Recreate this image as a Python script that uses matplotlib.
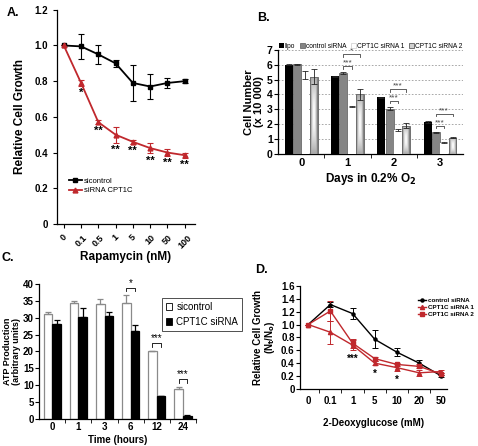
import matplotlib
matplotlib.use("Agg")
import matplotlib.pyplot as plt
import numpy as np
from matplotlib.lines import Line2D
from matplotlib.patches import Patch

plt.rcParams["font.family"] = ["Liberation Sans", "DejaVu Sans"]
plt.rcParams["font.weight"] = "bold"
plt.rcParams["axes.labelweight"] = "bold"
plt.rcParams["axes.linewidth"] = 0.9

RED = "#c0282d"

# A: rapamycin dose response
rapa_labels = ["0", "0.1", "0.5", "1", "5", "10", "50", "100"]
rapa_ctrl = [1.0, 0.995, 0.95, 0.90, 0.79, 0.77, 0.79, 0.80]
rapa_ctrl_err = [0.0, 0.07, 0.055, 0.02, 0.10, 0.07, 0.03, 0.01]
rapa_cpt = [1.0, 0.79, 0.57, 0.50, 0.46, 0.425, 0.40, 0.385]
rapa_cpt_err = [0.0, 0.015, 0.01, 0.045, 0.01, 0.03, 0.02, 0.015]
rapa_stars = ["", "*", "**", "**", "**", "**", "**", "**"]

# B: cell number in hypoxia
days = ["0", "1", "2", "3"]
b_names = ["lipo", "control siRNA", "CPT1C siRNA 1", "CPT1C siRNA 2"]
lipo = [6.0, 5.22, 3.82, 2.15]
lipo_err = [0.03, 0.03, 0.03, 0.05]
ctrl_sirna = [6.05, 5.45, 3.05, 1.45]
ctrl_sirna_err = [0.03, 0.05, 0.10, 0.02]
cpt_sirna1 = [5.3, 3.2, 1.6, 0.75]
cpt_sirna1_err = [0.25, 0.03, 0.05, 0.02]
cpt_sirna2 = [5.2, 4.0, 1.9, 1.1]
cpt_sirna2_err = [0.5, 0.4, 0.15, 0.05]
b_sig_day = [1, 1, 2, 2, 3, 3]
b_sig_bar = [2, 3, 2, 3, 2, 3]
b_sig_text = ["***", "*", "***", "***", "***", "***"]

# C: ATP production
hours = ["0", "1", "3", "6", "12", "24"]
atp_ctrl = [31.0, 34.2, 33.9, 34.2, 20.0, 9.0]
atp_ctrl_err = [0.7, 0.8, 1.5, 2.5, 0.2, 0.6]
atp_cpt = [28.0, 30.3, 30.6, 26.0, 6.7, 1.0]
atp_cpt_err = [1.4, 2.5, 1.2, 1.8, 0.1, 0.1]
atp_stars = ["", "", "", "*", "***", "***"]

# D: 2-deoxyglucose
dg_labels = ["0", "0.1", "1", "5", "10", "20", "50"]
dg_ctrl = [1.0, 1.31, 1.17, 0.77, 0.57, 0.40, 0.20]
dg_ctrl_err = [0.0, 0.04, 0.09, 0.14, 0.06, 0.05, 0.02]
dg_si1 = [1.0, 0.88, 0.68, 0.40, 0.33, 0.25, 0.27]
dg_si1_err = [0.0, 0.18, 0.08, 0.03, 0.05, 0.05, 0.02]
dg_si2 = [1.0, 1.21, 0.71, 0.47, 0.38, 0.35, 0.23]
dg_si2_err = [0.0, 0.15, 0.07, 0.03, 0.03, 0.03, 0.02]
dg_stars = ["", "", "***", "*", "*", "", ""]


def fmt_ticks(vals, nd):
    return ["0" if v == 0 else f"{v:.{nd}f}" for v in vals]


def bracket(ax, x0, x1, y, leg, text, fs, color):
    ax.plot([x0, x0, x1, x1], [y - leg, y, y, y - leg], color=color, lw=0.6)
    ax.text((x0 + x1) / 2, y, text, ha="center", va="bottom", fontsize=fs,
            color=color, weight="normal")


fig = plt.figure(figsize=(4.78, 4.46), dpi=100)

# ---- A ----
axA = fig.add_axes([0.119, 0.498, 0.289, 0.480])
xa = np.arange(len(rapa_labels))
ekw = dict(capsize=2.5, elinewidth=0.8, capthick=0.8, lw=1.3)
axA.errorbar(xa, rapa_ctrl, yerr=rapa_ctrl_err, color="black", marker="s", ms=3, **ekw)
axA.errorbar(xa, rapa_cpt, yerr=rapa_cpt_err, color=RED, marker="^", ms=3.5, **ekw)
for xi, v, e, s in zip(xa, rapa_cpt, rapa_cpt_err, rapa_stars):
    if s:
        axA.text(xi, v - e - 0.012, s, ha="center", va="top", fontsize=8)
axA.set_xlim(-0.4, 7.6)
axA.set_ylim(0, 1.2)
ya = np.arange(0, 1.21, 0.2)
axA.set_yticks(ya)
axA.set_yticklabels(fmt_ticks(ya, 1))
axA.set_xticks(xa)
axA.set_xticklabels(rapa_labels, rotation=45, ha="center")
axA.tick_params(axis="y", labelsize=7, length=3)
axA.tick_params(axis="x", labelsize=6.5, length=3)
axA.set_xlabel("Rapamycin (nM)", fontsize=8.5, labelpad=1)
axA.set_ylabel("Relative Cell Growth", fontsize=8.5, labelpad=6)
for s in ("top", "right"):
    axA.spines[s].set_visible(False)
a_handles = [Line2D([], [], color="black", marker="s", ms=3, lw=1.3),
             Line2D([], [], color=RED, marker="^", ms=3.5, lw=1.3)]
axA.legend(a_handles, ["sicontrol", "siRNA CPT1C"], loc="upper left",
           bbox_to_anchor=(0.04, 0.25), frameon=False,
           prop=dict(size=5.5, weight="normal"), handlelength=1.6,
           labelspacing=0.3, handletextpad=0.3)

# ---- B ----
axB = fig.add_axes([0.582, 0.655, 0.387, 0.233])
xb = np.arange(len(days))
bw = 0.17
offs = (np.arange(4) - 1.5) * 0.18
err_kw = dict(ecolor="#222222", capsize=2.5, elinewidth=0.6, capthick=0.6)
axB.bar(xb + offs[0], lipo, bw, color="black", yerr=lipo_err, error_kw=err_kw, zorder=3)
axB.bar(xb + offs[1], ctrl_sirna, bw, color="#858585", edgecolor="#5a5a5a",
        lw=0.5, yerr=ctrl_sirna_err, error_kw=err_kw, zorder=3)
axB.bar(xb + offs[2], cpt_sirna1, bw, color="white", edgecolor="none",
        yerr=cpt_sirna1_err, error_kw=err_kw, zorder=3)
bars2 = axB.bar(xb + offs[3], cpt_sirna2, bw, color="none", edgecolor="#6f6f6f",
                lw=0.7, yerr=cpt_sirna2_err, error_kw=err_kw, zorder=3)
gx, gy = np.meshgrid(np.linspace(-1, 1, 64), np.linspace(-1, 1, 64))
shade = 1 - 0.6 * np.maximum(np.abs(gx), 0.7 * np.abs(gy)) ** 1.6
for rect in bars2:
    im = axB.imshow(shade, cmap="gray", vmin=0, vmax=1, aspect="auto",
                    interpolation="bilinear", zorder=2.8,
                    extent=(rect.get_x(), rect.get_x() + rect.get_width(),
                            0, rect.get_height()))
    im.set_clip_path(rect)
tops = np.array(ctrl_sirna) + np.array(ctrl_sirna_err)
tier = {}
for d, j, t in zip(b_sig_day, b_sig_bar, b_sig_text):
    k = tier.get(d, 0)
    tier[d] = k + 1
    bracket(axB, d + offs[1], d + offs[j], tops[d] + 0.4 + 0.8 * k, 0.15, t, 6, "#444444")
axB.set_xlim(-0.5, 3.5)
axB.set_ylim(0, 7)
axB.set_yticks(range(8))
axB.yaxis.grid(True, ls=(0, (2, 2)), color="#9a9a9a", lw=0.6)
axB.set_axisbelow(True)
axB.set_xticks(xb)
axB.set_xticklabels(days)
axB.set_xticks(np.arange(0.5, 3.5, 1), minor=True)
axB.tick_params(axis="x", which="major", length=0, labelsize=8, pad=3)
axB.tick_params(axis="x", which="minor", length=3)
axB.tick_params(axis="y", labelsize=7.5, length=3, pad=1)
for s in ("top", "right"):
    axB.spines[s].set_visible(False)
axB.set_ylabel("Cell Number\n(x 10 000)", fontsize=8, linespacing=1.0, labelpad=2)
axB.set_xlabel("Days in 0.2% O$_\\mathbf{2}$", fontsize=8.5, labelpad=2)
b_handles = [Patch(facecolor="black"),
             Patch(facecolor="#858585", edgecolor="#5a5a5a", lw=0.5),
             Patch(facecolor="white", edgecolor="#cccccc", lw=0.5),
             Patch(facecolor="#d0d0d0", edgecolor="#6f6f6f", lw=0.7)]
axB.legend(b_handles, b_names, ncol=4, loc="lower center", bbox_to_anchor=(0.5, 0.98),
           frameon=False, prop=dict(size=4.8, weight="normal"), handlelength=0.7,
           handleheight=0.7, handletextpad=0.2, columnspacing=0.7, borderaxespad=0.2,
           borderpad=0.1)

# ---- C ----
axC = fig.add_axes([0.082, 0.0605, 0.328, 0.303])
xc = np.arange(len(hours))
cw = 0.33
zeros = np.zeros(len(hours))
axC.bar(xc - cw / 2, atp_ctrl, cw, color="white", edgecolor="#8a8a8a", lw=0.9,
        yerr=[zeros, atp_ctrl_err],
        error_kw=dict(ecolor="#8a8a8a", capsize=2.5, elinewidth=0.9, capthick=0.9))
axC.bar(xc + cw / 2, atp_cpt, cw, color="black", edgecolor="black", lw=0.9,
        yerr=[zeros, atp_cpt_err],
        error_kw=dict(ecolor="black", capsize=2.5, elinewidth=0.9, capthick=0.9))
for xi, a, ae, b, be, s in zip(xc, atp_ctrl, atp_ctrl_err, atp_cpt, atp_cpt_err, atp_stars):
    if s:
        bracket(axC, xi - cw / 2, xi + cw / 2, max(a + ae, b + be) + 2.2, 1.0, s, 7, "black")
axC.set_xlim(-0.5, 5.5)
axC.set_ylim(0, 40)
axC.set_yticks(range(0, 41, 5))
axC.set_xticks(xc)
axC.set_xticklabels(hours)
axC.set_xticks(np.arange(0.5, 6, 1), minor=True)
axC.tick_params(axis="x", which="major", length=0, labelsize=7, pad=2.5)
axC.tick_params(axis="x", which="minor", length=3)
axC.tick_params(axis="y", labelsize=7, length=3, pad=1)
for s in ("top", "right"):
    axC.spines[s].set_visible(False)
axC.set_ylabel("ATP Production\n(arbitrary units)", fontsize=6.5, linespacing=1.0, labelpad=1)
axC.set_xlabel("Time (hours)", fontsize=7, labelpad=2)
c_handles = [Patch(facecolor="white", edgecolor="black", lw=0.6),
             Patch(facecolor="black", edgecolor="black", lw=0.6)]
legC = axC.legend(c_handles, ["sicontrol", "CPT1C siRNA"], loc="upper left",
                  bbox_to_anchor=(0.75, 0.93), fancybox=False, edgecolor="black",
                  prop=dict(size=7, weight="normal"), handlelength=0.7,
                  handleheight=0.7, handletextpad=0.4, borderpad=0.4, labelspacing=0.5)
legC.get_frame().set_linewidth(0.6)

# ---- D ----
axD = fig.add_axes([0.628, 0.128, 0.3075, 0.231])
xd = np.arange(len(dg_labels))
dkw = dict(capsize=2, elinewidth=0.7, capthick=0.7, lw=1.0)
axD.errorbar(xd, dg_ctrl, yerr=dg_ctrl_err, color="black", marker="o", ms=2.2, **dkw)
axD.errorbar(xd, dg_si1, yerr=dg_si1_err, color=RED, marker="^", ms=3, **dkw)
axD.errorbar(xd, dg_si2, yerr=dg_si2_err, color=RED, marker="s", ms=2.6, **dkw)
lows = np.minimum(np.array(dg_si1) - dg_si1_err, np.array(dg_si2) - dg_si2_err)
for xi, lo, s in zip(xd, lows, dg_stars):
    if s:
        axD.text(xi, lo - 0.06, s, ha="center", va="top", fontsize=7)
axD.set_xlim(-0.36, 6.26)
axD.set_ylim(0, 1.6)
yd = np.arange(0, 1.61, 0.2)
axD.set_yticks(yd)
axD.set_yticklabels(fmt_ticks(yd, 1))
axD.set_xticks(xd)
axD.set_xticklabels(dg_labels)
axD.set_xticks(np.arange(0.5, 6, 1), minor=True)
axD.tick_params(axis="x", which="major", length=0, labelsize=7, pad=5)
axD.tick_params(axis="x", which="minor", length=3)
axD.tick_params(axis="y", labelsize=7, length=3, pad=1)
for s in ("top", "right"):
    axD.spines[s].set_visible(False)
axD.set_ylabel("Relative Cell Growth\n(N$_\\mathbf{t}$/N$_\\mathbf{o}$)", fontsize=7,
               linespacing=1.0, labelpad=3)
axD.set_xlabel("2-Deoxyglucose (mM)", fontsize=7, labelpad=9)
d_handles = [Line2D([], [], color="black", marker="o", ms=2.2, lw=1.0),
             Line2D([], [], color=RED, marker="^", ms=3, lw=1.0),
             Line2D([], [], color=RED, marker="s", ms=2.6, lw=1.0)]
axD.legend(d_handles, ["control siRNA", "CPT1C siRNA 1", "CPT1C siRNA 2"],
           loc="upper left", bbox_to_anchor=(0.77, 0.93), frameon=False,
           prop=dict(size=4.5, weight="bold"), handlelength=1.3, labelspacing=0.25,
           handletextpad=0.3, borderpad=0.2)

fig.text(0.015, 0.985, "A.", fontsize=9, weight="bold", va="top")
fig.text(0.537, 0.972, "B.", fontsize=9, weight="bold", va="top")
fig.text(0.004, 0.435, "C.", fontsize=9, weight="bold", va="top")
fig.text(0.533, 0.407, "D.", fontsize=9, weight="bold", va="top")

fig.savefig("out.png", dpi=100)
